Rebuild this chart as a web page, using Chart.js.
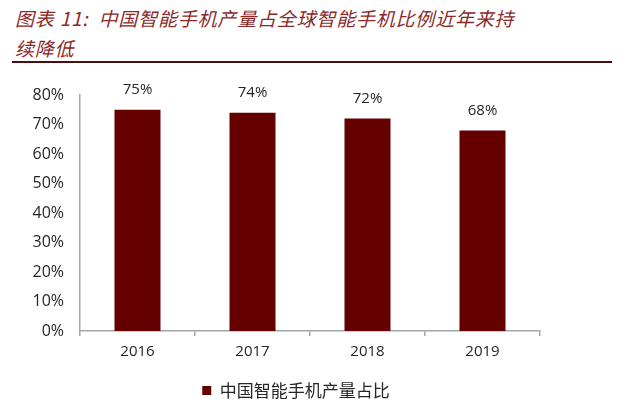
<!DOCTYPE html>
<html>
<head>
<meta charset="utf-8">
<script src="https://cdn.jsdelivr.net/npm/chart.js@4/dist/chart.umd.min.js"></script>
<style>
    html, body { margin: 0; padding: 0; background: #fff; }
    body { width: 624px; height: 417px; position: relative; overflow: hidden; }
    .title {
        position: absolute;
        left: 15px;
        top: 3px;
        font-family: "Noto Sans CJK SC", sans-serif;
        font-style: italic;
        font-size: 19px;
        letter-spacing: 0.8px;
        line-height: 30px;
        color: #8a2a2a;
        white-space: nowrap;
    }
    .rule {
        position: absolute;
        left: 12px;
        top: 61px;
        width: 600px;
        height: 2px;
        background: #4a1010;
    }
    .chart-box {
        position: absolute;
        left: 0;
        top: 64px;
        width: 624px;
        height: 353px;
    }
</style>
</head>
<body>
<div class="title">图表 11:&nbsp; 中国智能手机产量占全球智能手机比例近年来持<br>续降低</div>
<div class="rule"></div>
<div class="chart-box"><canvas id="shareChart"></canvas></div>

<script>
// chart data
const years = ['2016', '2017', '2018', '2019'];
const shareValues = [0.75, 0.74, 0.72, 0.68];
const yTicks = [0, 0.1, 0.2, 0.3, 0.4, 0.5, 0.6, 0.7, 0.8];
const seriesName = '中国智能手机产量占比';

const barColor = '#640000';
const axisColor = '#a6a6a6';
const textColor = '#262626';

// value labels above each bar
const valueLabels = {
    id: 'valueLabels',
    afterDatasetsDraw(chart) {
        const ctx = chart.ctx;
        const meta = chart.getDatasetMeta(0);
        ctx.save();
        ctx.font = '15px "Open Sans", sans-serif';
        ctx.fillStyle = textColor;
        ctx.textAlign = 'center';
        ctx.textBaseline = 'middle';
        meta.data.forEach((bar, i) => {
            const v = chart.data.datasets[0].data[i];
            ctx.fillText(Math.round(v * 100) + '%', bar.x, bar.y - 20);
        });
        ctx.restore();
    }
};

new Chart(document.getElementById('shareChart'), {
    type: 'bar',
    data: {
        labels: years,
        datasets: [{
            label: seriesName,
            data: shareValues,
            backgroundColor: barColor,
            borderWidth: 0,
            categoryPercentage: 0.8,
            barPercentage: 0.5
        }]
    },
    options: {
        responsive: true,
        maintainAspectRatio: false,
        animation: false,
        layout: {
            padding: { top: 31, right: 58, bottom: 8, left: 26 }
        },
        scales: {
            y: {
                min: 0,
                max: 0.8,
                afterFit(scale) { scale.width = 54; },
                afterBuildTicks(scale) {
                    scale.ticks = yTicks.map(v => ({ value: v }));
                },
                ticks: {
                    padding: 16,
                    color: textColor,
                    font: { family: '"Open Sans", sans-serif', size: 16 },
                    callback: v => Math.round(v * 100) + '%'
                },
                grid: { display: false, drawTicks: false },
                border: { display: true, color: axisColor, width: 1.5 }
            },
            // empty right-hand spacer so the legend sits where the original has it
            spacer: {
                position: 'right',
                display: true,
                afterFit(scale) { scale.width = 26; },
                ticks: { display: false },
                grid: { display: false, drawTicks: false },
                border: { display: false }
            },
            x: {
                ticks: {
                    padding: 7,
                    color: textColor,
                    font: { family: '"Open Sans", sans-serif', size: 15 }
                },
                grid: {
                    display: true,
                    drawOnChartArea: false,
                    drawTicks: true,
                    tickLength: 5,
                    color: axisColor,
                    lineWidth: 1.5
                },
                border: { display: true, color: axisColor, width: 1.5 }
            }
        },
        plugins: {
            legend: {
                display: true,
                position: 'bottom',
                labels: {
                    color: textColor,
                    font: { family: '"Noto Sans CJK SC", sans-serif', size: 17 },
                    boxWidth: 9,
                    boxHeight: 9,
                    padding: 14
                }
            },
            tooltip: { enabled: false }
        }
    },
    plugins: [valueLabels]
});
</script>
</body>
</html>
